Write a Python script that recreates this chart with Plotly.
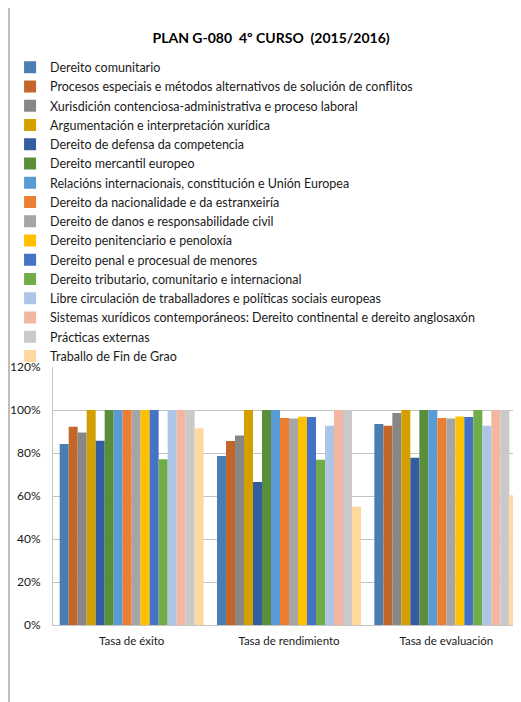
import plotly.graph_objects as go

# categories on the x axis
categories = ["Tasa de éxito", "Tasa de rendimiento", "Tasa de evaluación"]

# subjects (one series each)
subjects = [
    "Dereito comunitario",
    "Procesos especiais e métodos alternativos de solución de conflitos",
    "Xurisdición contenciosa-administrativa e proceso laboral",
    "Argumentación e interpretación xurídica",
    "Dereito de defensa da competencia",
    "Dereito mercantil europeo",
    "Relacións internacionais, constitución e Unión Europea",
    "Dereito da nacionalidade e da estranxeiría",
    "Dereito de danos e responsabilidade civil",
    "Dereito penitenciario e penoloxía",
    "Dereito penal e procesual de menores",
    "Dereito tributario, comunitario e internacional",
    "Libre circulación de traballadores e políticas sociais europeas",
    "Sistemas xurídicos contemporáneos: Dereito continental e dereito anglosaxón",
    "Prácticas externas",
    "Traballo de Fin de Grao",
]

# rates per subject, in order: éxito, rendimento, evaluación
tasa_exito = [0.842, 0.922, 0.895, 1.0, 0.857, 1.0, 1.0, 1.0, 1.0, 1.0, 1.0, 0.771, 1.0, 1.0, 1.0, 0.915]
tasa_rendimiento = [0.786, 0.856, 0.881, 1.0, 0.665, 1.0, 1.0, 0.963, 0.960, 0.969, 0.967, 0.769, 0.927, 1.0, 1.0, 0.550]
tasa_evaluacion = [0.935, 0.927, 0.986, 1.0, 0.778, 1.0, 1.0, 0.963, 0.960, 0.970, 0.967, 1.0, 0.927, 1.0, 1.0, 0.603]

colors = [
    "#4A7EB2", "#C4662A", "#878787", "#D4A000", "#345DA1", "#5A8E3A",
    "#5B9BD5", "#ED7D31", "#A5A5A5", "#FFC000", "#4472C4", "#70AD47",
    "#ADC5E6", "#F3B6A0", "#C9C9C9", "#FFD89E",
]

fig = go.Figure()
for i, name in enumerate(subjects):
    fig.add_trace(go.Bar(
        x=categories,
        y=[tasa_exito[i], tasa_rendimiento[i], tasa_evaluacion[i]],
        name=name,
        marker=dict(color=colors[i], line_width=0),
    ))

# the page body adds an 8px offset, so the layout is shifted up/left by 8px
fig.update_layout(
    width=521, height=702,
    paper_bgcolor="white", plot_bgcolor="white",
    font=dict(family="Lato", size=12, color="#1a1a1a"),
    title=dict(text="<b>PLAN G-080  4º CURSO  (2015/2016)</b>",
               x=0.505, xanchor="center", y=0.957, yanchor="middle",
               font=dict(size=14, color="black")),
    barmode="group", bargap=0.085, bargroupgap=0,
    margin=dict(l=45, r=4, t=359, b=85, autoexpand=False),
    legend=dict(x=0.004, xref="container", xanchor="left",
                y=0.9365, yref="container", yanchor="top",
                orientation="v", traceorder="normal", bgcolor="rgba(0,0,0,0)",
                font=dict(size=12.5), itemwidth=30, tracegroupgap=0),
    showlegend=True,
)
fig.update_yaxes(range=[0, 1.2], dtick=0.2, tickformat=".0%",
                 showgrid=True, gridcolor="#C4C4C4", gridwidth=1,
                 showline=True, linecolor="#C4C4C4", ticks="",
                 tickfont=dict(size=12), ticklabelstandoff=9, zeroline=False)
fig.update_xaxes(showline=True, linecolor="#C4C4C4", ticks="",
                 tickfont=dict(size=11.5), ticklabelstandoff=5)

# outer chart border on the left
fig.add_shape(type="line", xref="paper", yref="paper",
              x0=-0.0932, x1=-0.0932, y0=-0.35, y1=2.75,
              line=dict(color="#BFBFBF", width=2))

fig.write_html("out.html")
